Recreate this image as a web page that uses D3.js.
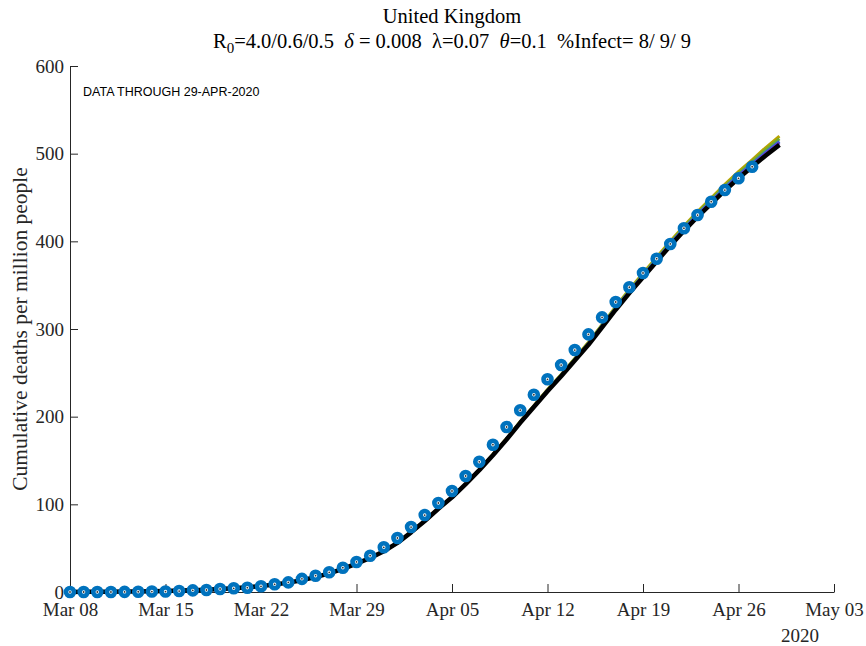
<!DOCTYPE html>
<html>
<head>
<meta charset="utf-8">
<script src="https://cdn.jsdelivr.net/npm/d3@7"></script>
<style>
  body { margin: 0; background: #fff; }
  svg { display: block; }
  text { font-family: "Liberation Serif", "DejaVu Serif", serif; fill: #262626; }
</style>
</head>
<body>
<div id="chart"></div>
<script>
// observed data: cumulative deaths per million, daily from Mar 08 to Apr 27
const observed = [
  0, 0, 0, 0, 0.1, 0.3, 0.5, 0.5, 1.1, 1.9,
  2.3, 3.4, 4.2, 4.9, 6.5, 8.8, 11, 15, 18.6, 22.5,
  27.7, 34.3, 41.4, 51, 61.6, 74.1, 87.8, 101.5, 115.2, 132.3,
  148.5, 168, 188.2, 207.3, 225, 242.6, 258.9, 276, 293.9, 313.3,
  330.8, 347.6, 363.9, 380.2, 397, 415, 430, 445.2, 458.5, 471.9,
  485.1
];

// model fits, daily from Mar 08 to Apr 29 (shared up to Apr 06)
const fitEarly = [
  0.1, 0.2, 0.3, 0.4, 0.5, 0.7, 0.9, 1.2, 1.6, 2.0,
  2.6, 3.3, 4.2, 5.3, 6.7, 8.5, 10.7, 13.5, 17.0, 21.2,
  26.3, 32.3, 38.8, 46.5, 56, 68, 81, 95, 108, 123
];
const fitOlive = fitEarly.concat([139.5, 157, 175, 194.5, 212.5, 231, 248, 266.5, 285, 305,
  325.5, 345, 363.5, 382, 400, 417.5, 434, 449.5, 465, 479.5, 493, 507, 520]);
const fitGreen = fitEarly.concat([139.3, 156.5, 174.7, 194, 212, 230.5, 247.5, 266, 284, 304.3,
  324.5, 344, 362, 380.5, 398.5, 416, 432.5, 447.5, 463, 477.5, 491, 504.5, 517]);
const fitBlue = fitEarly.concat([139.2, 156.3, 174.4, 193.5, 211.6, 229.8, 247, 265, 283.2, 303.4,
  323.6, 342.8, 361, 379.2, 397.4, 414.5, 430.8, 446, 461.2, 475.4, 488.6, 501.8, 514]);
const fitPurple = fitEarly.concat([139.1, 156.2, 174.2, 193.3, 211.4, 229.5, 246.6, 264.6, 282.7, 302.8,
  322.9, 342, 360.1, 378.2, 396.4, 413.5, 429.6, 444.8, 459.9, 474, 487.2, 500.3, 512.5]);
const fitBlack = fitEarly.concat([139, 156, 174, 193, 211, 229, 246, 264, 282, 302,
  322, 341, 359, 377, 395, 412, 428, 443, 458, 472, 485, 498, 510]);

const fits = [
  { name: "olive", color: "#b8a400", width: 3, values: fitOlive },
  { name: "green", color: "#74ac2e", width: 3, values: fitGreen },
  { name: "blue", color: "#2f6fd6", width: 3, values: fitBlue },
  { name: "purple", color: "#6a3cd2", width: 3, values: fitPurple },
  { name: "black", color: "#000000", width: 4.5, values: fitBlack }
];

const xTickDates = ["2020-03-08", "2020-03-15", "2020-03-22", "2020-03-29",
                    "2020-04-05", "2020-04-12", "2020-04-19", "2020-04-26", "2020-05-03"];
const yTicks = [0, 100, 200, 300, 400, 500, 600];

const parse = d3.timeParse("%Y-%m-%d");
const startDate = parse(xTickDates[0]);
const endDate = parse(xTickDates[xTickDates.length - 1]);

const margin = { top: 66, right: 32, bottom: 54, left: 70 },
      width = 866 - margin.left - margin.right,
      height = 646 - margin.top - margin.bottom;

const svg = d3.select("#chart")
  .append("svg")
  .attr("width", 866)
  .attr("height", 646);

const g = svg.append("g")
  .attr("transform", `translate(${margin.left}, ${margin.top})`);

const x = d3.scaleTime()
  .domain([startDate, endDate])
  .range([0, width]);

const y = d3.scaleLinear()
  .domain([0, 600])
  .range([height, 0]);

const dayOf = i => d3.timeDay.offset(startDate, i);

/* ---- axes ---- */
const xAxis = g.append("g")
  .attr("transform", `translate(0, ${height})`)
  .call(d3.axisBottom(x)
    .tickValues(xTickDates.map(parse))
    .tickFormat(d3.timeFormat("%b %d"))
    .tickSizeInner(-8)
    .tickSizeOuter(0)
    .tickPadding(12));
xAxis.selectAll("text").style("font-size", "19px").attr("dy", "0.62em");

const yAxis = g.append("g")
  .call(d3.axisLeft(y)
    .tickValues(yTicks)
    .tickSizeInner(-8)
    .tickSizeOuter(0)
    .tickPadding(6));
yAxis.selectAll("text").style("font-size", "19px");

[xAxis, yAxis].forEach(a => {
  a.selectAll("line, path").attr("stroke", "#262626");
});

g.append("text")
  .attr("x", x(endDate) - 34)
  .attr("y", height + 50)
  .attr("text-anchor", "middle")
  .style("font-size", "19px")
  .text("2020");

/* ---- lines ---- */
const line = d3.line()
  .x((d, i) => x(dayOf(i)))
  .y(d => y(d));

g.selectAll(".fit")
  .data(fits)
  .join("path")
  .attr("class", "fit")
  .attr("fill", "none")
  .attr("stroke", d => d.color)
  .attr("stroke-width", d => d.width)
  .attr("stroke-linejoin", "round")
  .attr("d", d => line(d.values));

/* ---- observed dots ---- */
const dots = g.append("g");
dots.selectAll("circle.obs")
  .data(observed)
  .join("circle")
  .attr("class", "obs")
  .attr("cx", (d, i) => x(dayOf(i)))
  .attr("cy", d => y(d))
  .attr("r", 4)
  .attr("fill", "#ffffff")
  .attr("stroke", "#0072bd")
  .attr("stroke-width", 4.6);
dots.selectAll("circle.ctr")
  .data(observed)
  .join("circle")
  .attr("class", "ctr")
  .attr("cx", (d, i) => x(dayOf(i)))
  .attr("cy", d => y(d))
  .attr("r", 0.9)
  .attr("fill", "#333");

/* ---- labels ---- */
g.append("text")
  .attr("x", 13)
  .attr("y", 30)
  .style("font-family", "'Liberation Sans', Arial, sans-serif")
  .style("font-size", "12.5px")
  .style("fill", "#000")
  .text("DATA THROUGH 29-APR-2020");

svg.append("text")
  .attr("transform", `translate(27, ${margin.top + height / 2}) rotate(-90)`)
  .attr("text-anchor", "middle")
  .style("font-size", "21.5px")
  .text("Cumulative deaths per million people");

const cx = margin.left + width / 2;
svg.append("text")
  .attr("x", cx)
  .attr("y", 23)
  .attr("text-anchor", "middle")
  .style("font-size", "20.5px")
  .style("fill", "#000")
  .text("United Kingdom");

const t2 = svg.append("text")
  .attr("x", cx)
  .attr("y", 48)
  .attr("text-anchor", "middle")
  .style("font-size", "20.5px")
  .style("fill", "#000")
  .style("white-space", "pre")
  .attr("xml:space", "preserve");
t2.append("tspan").text("R");
t2.append("tspan").attr("dy", 5).style("font-size", "15px").text("0");
t2.append("tspan").attr("dy", -5).text("=4.0/0.6/0.5  ");
t2.append("tspan").style("font-style", "italic").text("δ");
t2.append("tspan").text(" = 0.008  ");
t2.append("tspan").text("λ");
t2.append("tspan").text("=0.07  ");
t2.append("tspan").style("font-style", "italic").text("θ");
t2.append("tspan").text("=0.1  %Infect= 8/ 9/ 9");
</script>
</body>
</html>
